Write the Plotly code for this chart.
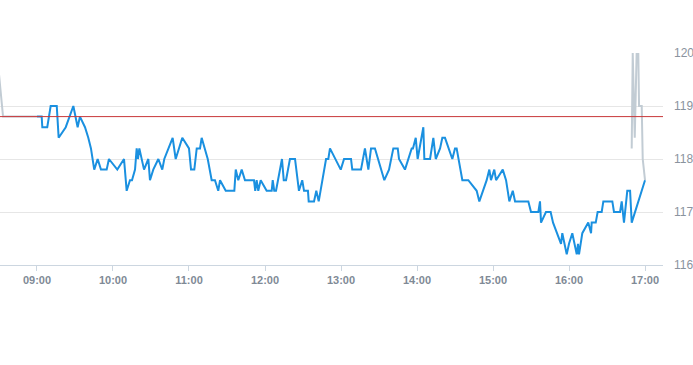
import pandas as pd
import plotly.graph_objects as go

# minutes after 09:00 and price for the regular session
session_minutes = [0, 3.7, 4.2, 8.1, 10.8, 15.6, 17.1, 22.7, 28.7, 32.1, 33.9, 37.9, 40.5, 42.6, 45.2,
                   47.9, 50.5, 55.0, 56.8, 63.4, 68.7, 70.8, 73.4, 75.0, 77.4, 78.7, 79.7, 80.8, 84.5,
                   87.9, 89.2, 91.8, 95.8, 98.9, 100.5, 107.1, 109.5, 114.7, 120.0, 121.6, 124.2, 126.1,
                   128.7, 130.0, 134.8, 137.9, 140.5, 143.1, 144.5, 149.0, 155.8, 156.9, 158.9, 161.6,
                   164.2, 171.3, 172.3, 173.4, 174.7, 176.6, 181.3, 185.3, 186.1, 187.3, 188.7, 193.4,
                   194.8, 196.6, 199.7, 203.7, 206.8, 209.4, 210.8, 213.9, 214.5, 218.7, 220.5, 222.4,
                   228.2, 230.0, 231.3, 239.8, 242.4, 247.9, 248.9, 255.8, 258.9, 261.6, 263.7, 266.8,
                   274.2, 277.9, 281.3, 284.8, 285.8, 290.5, 295.8, 296.8, 299.0, 300.5, 305.0, 305.8,
                   310.3, 312.9, 314.8, 318.2, 320.0, 322.1, 327.9, 330.0, 331.3, 335.8, 340.5, 347.1,
                   349.2, 355.0, 357.1, 358.4, 361.0, 362.4, 367.7, 370.3, 372.9, 375.6, 377.4, 387.9,
                   390.0, 395.8, 397.1, 397.9, 401.8, 405.5, 407.4, 410.5, 413.7, 414.7, 418.2, 420.0,
                   422.6, 426.1, 427.1, 427.9, 430.5, 435.2, 437.4, 437.9, 441.1, 442.6, 445.8, 447.1,
                   454.2, 455.5, 460.3, 461.6, 463.4, 466.0, 468.2, 469.5, 480.0]
session_prices = [118.8, 118.8, 118.6, 118.6, 119.0, 119.0, 118.4, 118.6, 119.0, 118.6, 118.8, 118.6,
                  118.4, 118.2, 117.8, 118.0, 117.8, 117.8, 118.0, 117.8, 118.0, 117.4, 117.6, 117.6,
                  117.8, 118.2, 118.0, 118.2, 117.8, 118.0, 117.6, 117.8, 118.0, 117.8, 118.0, 118.4,
                  118.0, 118.4, 118.2, 117.8, 117.8, 118.2, 118.2, 118.4, 118.0, 117.6, 117.6, 117.4,
                  117.6, 117.4, 117.4, 117.8, 117.6, 117.8, 117.6, 117.6, 117.4, 117.6, 117.4, 117.6,
                  117.4, 117.4, 117.6, 117.4, 117.4, 118.0, 117.6, 117.6, 118.0, 118.0, 117.4, 117.6,
                  117.4, 117.4, 117.2, 117.2, 117.4, 117.2, 118.0, 118.0, 118.2, 117.8, 118.0, 118.0,
                  117.8, 117.8, 118.2, 117.8, 118.2, 118.2, 117.6, 117.8, 118.2, 118.2, 118.0, 117.8,
                  118.2, 118.2, 118.4, 118.0, 118.6, 118.0, 118.0, 118.4, 118.0, 118.2, 118.4, 118.4,
                  118.0, 118.2, 118.2, 117.6, 117.6, 117.4, 117.2, 117.6, 117.8, 117.6, 117.8, 117.6,
                  117.8, 117.6, 117.2, 117.4, 117.2, 117.2, 117.0, 117.0, 117.2, 116.8, 117.0, 117.0,
                  116.8, 116.6, 116.4, 116.6, 116.2, 116.4, 116.6, 116.2, 116.4, 116.2, 116.6, 116.8,
                  116.6, 116.8, 116.8, 117.0, 117.0, 117.2, 117.2, 117.0, 117.0, 117.2, 116.8, 117.4,
                  117.4, 116.8, 117.6]

# extended hours (grey)
pre_minutes = [-30.0, -26.8, 0]
pre_prices = [119.6, 118.8, 118.8]
post_minutes = [469.5, 470.3, 471.9, 473.4, 474.7, 475.3, 477.4, 478.2, 480.0]
post_prices = [118.2, 120.0, 118.4, 120.0, 120.0, 119.0, 119.0, 118.0, 117.6]

previous_close = 118.8
y_ticks = [116, 117, 118, 119, 120]

base = pd.Timestamp("2024-01-02 09:00:00")
def to_time(mins):
    return [base + pd.Timedelta(minutes=m) for m in mins]

fig = go.Figure()
fig.add_trace(go.Scatter(x=to_time(pre_minutes), y=pre_prices, mode="lines",
                         line=dict(color="#c2ccd4", width=2), hoverinfo="skip"))
fig.add_trace(go.Scatter(x=to_time(post_minutes), y=post_prices, mode="lines",
                         line=dict(color="#c2ccd4", width=2), hoverinfo="skip"))
fig.add_trace(go.Scatter(x=to_time(session_minutes), y=session_prices, mode="lines",
                         line=dict(color="#1a90e0", width=2)))

fig.add_shape(type="line", xref="paper", x0=0, x1=1, yref="y", y0=previous_close, y1=previous_close,
              line=dict(color="#c8383a", width=1))

fig.update_layout(
    width=693, height=365,
    margin=dict(l=0, r=30, t=53, b=100, autoexpand=False),
    paper_bgcolor="white", plot_bgcolor="white",
    showlegend=False,
    font=dict(family="Liberation Sans", size=11, color="#8a96a3"),
    xaxis=dict(
        type="date", automargin=False,
        range=[base - pd.Timedelta(minutes=29.2), base + pd.Timedelta(minutes=494.2)],
        tickformat="%H:%M", dtick=3600000,
        showgrid=False, showline=True, linecolor="#ccd6e0", linewidth=1,
        ticks="outside", ticklen=5, tickcolor="#ccd6e0",
        tickfont=dict(family="Liberation Sans", size=11, color="#7f8a96", weight="bold"),
        zeroline=False,
    ),
    yaxis=dict(
        side="right", range=[116, 120], tickvals=y_ticks, automargin=False,
        showgrid=True, gridcolor="#e6e6e6", gridwidth=1,
        zeroline=False, showline=False, ticks="",
        ticklabelstandoff=10,
        tickfont=dict(family="Liberation Sans", size=12, color="#8a939e"),
    ),
)

fig.write_html("out.html", config={"displayModeBar": False},
               post_script="document.body.style.margin='0px';document.body.style.overflow='hidden';")
